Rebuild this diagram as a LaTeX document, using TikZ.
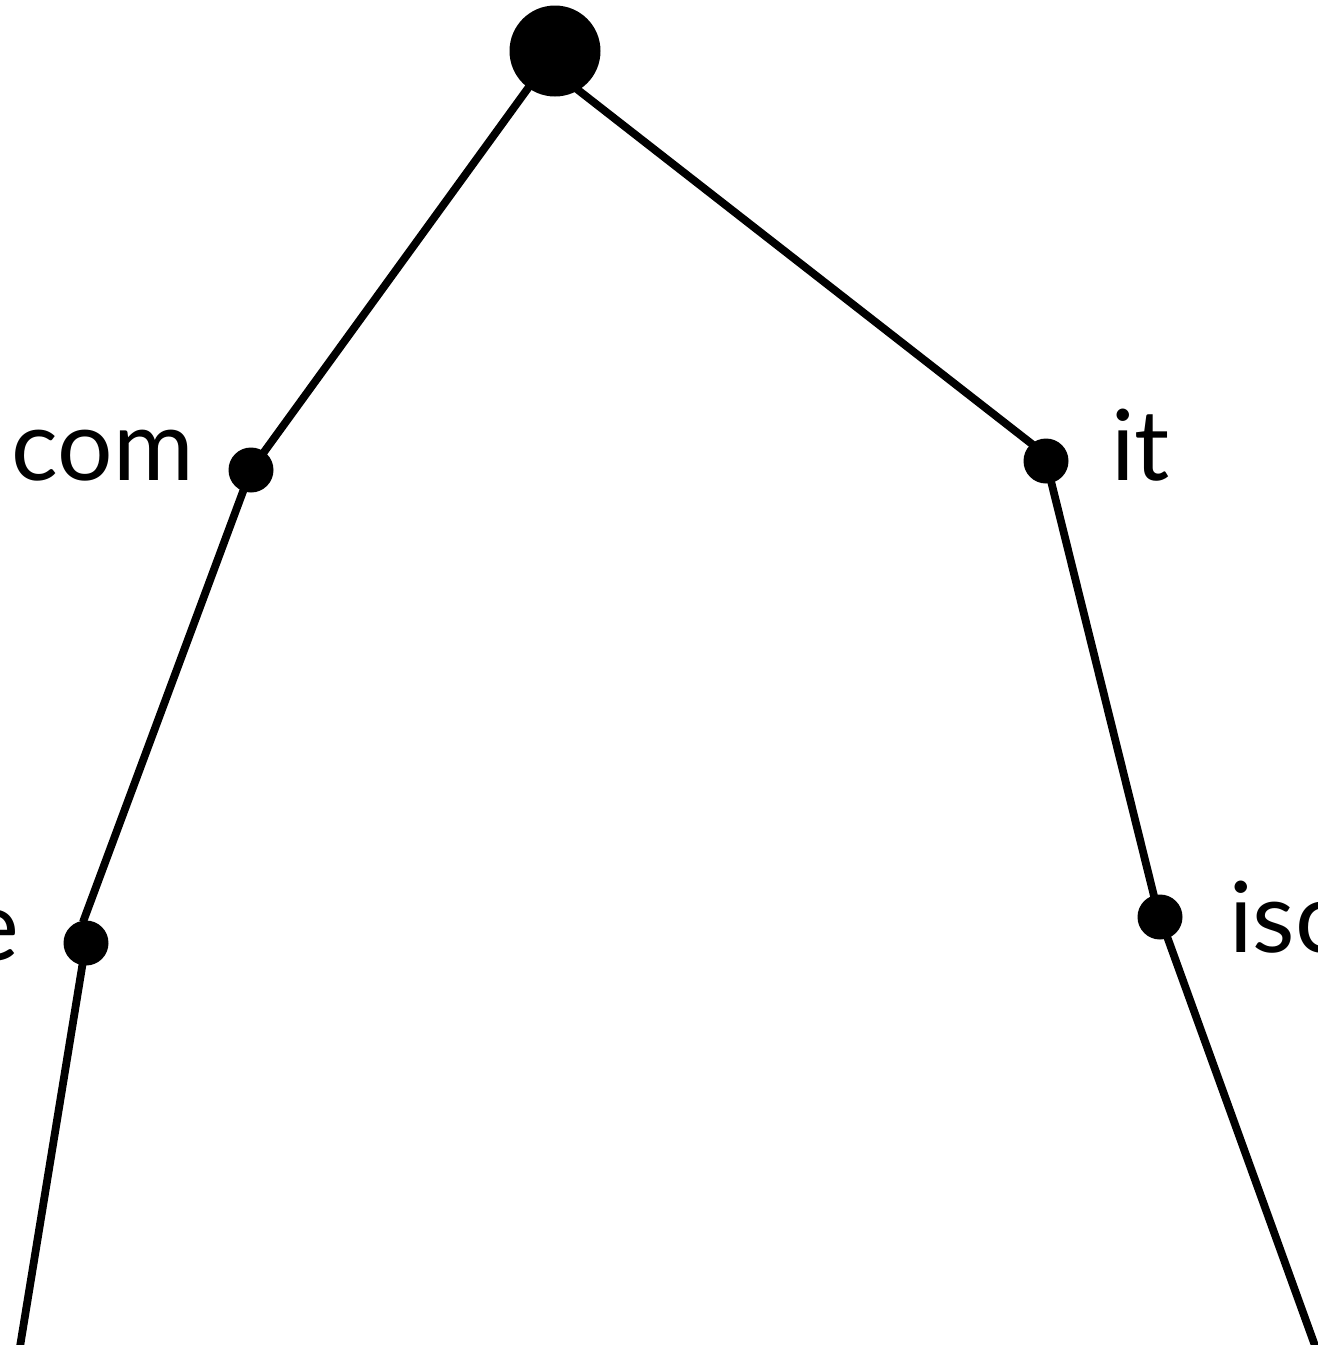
\documentclass[tikz,border=0pt]{standalone}
\usepackage{fontspec}
\setmainfont{Lato}
\begin{document}
\begin{tikzpicture}[x=1pt,y=-1pt,
  edge/.style={line width=7.8pt,draw=black},
  bigdot/.style={circle,fill=black,inner sep=0pt,minimum size=91pt},
  dot/.style={circle,fill=black,inner sep=0pt,minimum size=45pt},
  lbl/.style={inner sep=0pt,font=\fontsize{98}{110}\selectfont}]
\useasboundingbox (0,0) rectangle (1318,1345);
\clip (0,0) rectangle (1318,1345);
\coordinate (rootc) at (555,51);
\coordinate (rootOut) at (555,72);
\coordinate (comc) at (251,470);
\coordinate (itc) at (1046,461);
\coordinate (itIn) at (1046,455);
\coordinate (ec) at (86,943);
\coordinate (iscc) at (1160,917);
\coordinate (eIn) at (83,922);
\coordinate (iscIn) at (1155,900);
\coordinate (lend) at (17,1365);
\coordinate (rend) at (1322,1365);
\draw[edge] (rootc) -- (comc);
\draw[edge] (rootOut) -- (itIn);
\draw[edge] (comc) -- (eIn);
\draw[edge] (itc) -- (iscIn);
\draw[edge] (ec) -- (lend);
\draw[edge] (iscc) -- (rend);
\node[bigdot] (root) at (rootc) {};
\node[dot] (com) at (comc) {};
\node[dot] (it) at (itc) {};
\node[dot] (e) at (ec) {};
\node[dot] (isc) at (iscc) {};
\node[lbl,anchor=base east] (tcom) at (194,480) {com};
\node[lbl,anchor=base west] (tit) at (1111,480) {it};
\node[lbl,anchor=base west] (tisc) at (1229,952) {isc};
\node[lbl,anchor=base east] (te) at (19,960) {e};
\end{tikzpicture}
\end{document}
